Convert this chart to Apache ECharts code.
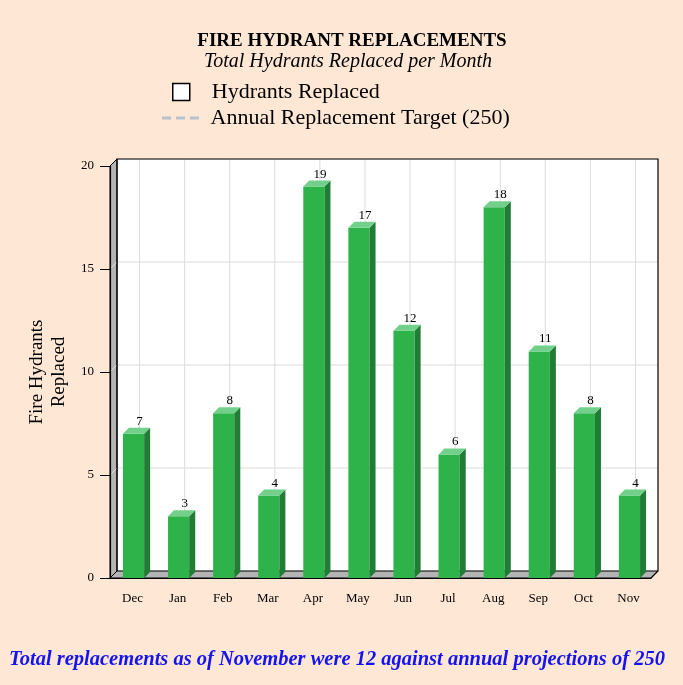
<!DOCTYPE html>
<html><head><meta charset="utf-8">
<script src="https://cdn.jsdelivr.net/npm/echarts@6/dist/echarts.min.js"></script>
<style>html,body{margin:0;padding:0;background:#fee7d4;}#c{width:683px;height:685px;}</style>
</head><body><div id="c"></div>
<script>
var months = ['Dec','Jan','Feb','Mar','Apr','May','Jun','Jul','Aug','Sep','Oct','Nov'];
var replaced = [7,3,8,4,19,17,12,6,18,11,8,4];
var yTicks = [0,5,10,15,20];
var titleText = 'FIRE HYDRANT REPLACEMENTS';
var subText = 'Total Hydrants Replaced per Month';
var seriesName = 'Hydrants Replaced';
var targetName = 'Annual Replacement Target (250)';
var footer = 'Total replacements as of November were 12 against annual projections of 250';

var FONT = '"Liberation Serif", "Times New Roman", serif';
var D = 7;   // wall depth (px)
var BD = 6;  // bar depth (px)

var chart = echarts.init(document.getElementById('c'));

function wallsRender(params, api) {
  var cs = params.coordSys;
  var x0 = cs.x, x1 = cs.x + cs.width, yb = cs.y + cs.height, yt = cs.y;
  var ch = [];
  ch.push({type:'rect', shape:{x:x0+D, y:yt-D, width:cs.width, height:cs.height}, style:{fill:'#ffffff', stroke:null}});
  yTicks.forEach(function(t){
    var y = api.coord([0,t])[1];
    ch.push({type:'line', shape:{x1:x0+D, y1:y-D, x2:x1+D, y2:y-D}, style:{stroke:'#dcdcdc', lineWidth:1}});
  });
  for (var i = 0; i < months.length; i++) {
    var x = api.coord([i,0])[0];
    ch.push({type:'line', shape:{x1:x+D, y1:yt-D, x2:x+D, y2:yb-D}, style:{stroke:'#dcdcdc', lineWidth:1}});
  }
  ch.push({type:'polygon', shape:{points:[[x0,yt],[x0+D,yt-D],[x0+D,yb-D],[x0,yb]]}, style:{fill:'#b4b4b4', stroke:'#000', lineWidth:1}});
  yTicks.forEach(function(t){
    var y = api.coord([0,t])[1];
    if (t>0 && t<20) ch.push({type:'line', shape:{x1:x0, y1:y, x2:x0+D, y2:y-D}, style:{stroke:'#e0e0e0', lineWidth:1}});
  });
  ch.push({type:'polygon', shape:{points:[[x0,yb],[x0+D,yb-D],[x1+D,yb-D],[x1,yb]]}, style:{fill:'#b4b4b4', stroke:'#000', lineWidth:1}});
  ch.push({type:'polyline', shape:{points:[[x0+D,yb-D],[x0+D,yt-D],[x1+D,yt-D],[x1+D,yb-D],[x1,yb]]}, style:{stroke:'#000', fill:null, lineWidth:1.2}});
  return {type:'group', children:ch};
}

function barRender(params, api) {
  var idx = api.value(0), val = api.value(1);
  var top = api.coord([idx, val]);
  var bot = api.coord([idx, 0]);
  var bw = api.size([1,0])[0] * 0.47;
  var xl = top[0] - bw/2 + 1, xr = xl + bw;
  var yt = top[1], yb = bot[1];
  return {type:'group', children:[
    {type:'rect', shape:{x:xl, y:yt, width:bw, height:yb-yt}, style:{fill:'#2db34a'}},
    {type:'polygon', shape:{points:[[xr,yt],[xr+BD,yt-BD],[xr+BD,yb-BD],[xr,yb]]}, style:{fill:'#217d36'}},
    {type:'polygon', shape:{points:[[xl,yt],[xl+BD,yt-BD],[xr+BD,yt-BD],[xr,yt]]}, style:{fill:'#72d08a'}},
    {type:'text', style:{text:String(val), x:(xl+xr)/2+BD, y:yt-BD, align:'center', verticalAlign:'bottom', font:'13px ' + FONT, fill:'#000'}}
  ]};
}

chart.setOption({
  backgroundColor:'#fee7d4',
  animation:false,
  title:[
    {text:titleText, left:352, top:32, padding:0, textAlign:'center', textStyle:{fontFamily:FONT, fontSize:19, fontWeight:'bold', color:'#000'}},
    {text:subText, left:348, top:52, padding:0, textAlign:'center', textStyle:{fontFamily:FONT, fontSize:20, fontStyle:'italic', fontWeight:'normal', color:'#000'}},
    {text:footer, left:337, top:650, padding:0, textAlign:'center', textStyle:{fontFamily:FONT, fontSize:20.5, fontStyle:'italic', fontWeight:'bold', color:'#1414f0'}}
  ],
  legend:[
    {data:[{name:seriesName, icon:'rect', itemStyle:{color:'#ffffff', borderColor:'#000', borderWidth:1.5}}],
     left:172, top:81, padding:0, itemWidth:17, itemHeight:17, selectedMode:false,
     textStyle:{fontFamily:FONT, fontSize:22, color:'#000', padding:[0,0,0,17]}},
    {data:[{name:targetName, icon:'path://M0,0h9v3h-9z M14,0h9v3h-9z M28,0h9v3h-9z', itemStyle:{color:'#b9c1cc'}}],
     left:162, top:107, padding:0, itemWidth:38, itemHeight:3, selectedMode:false,
     textStyle:{fontFamily:FONT, fontSize:22, color:'#000', padding:[0,0,0,6]}}
  ],
  grid:{left:110, top:166, width:541, height:412},
  xAxis:{type:'category', data:months, z:10,
    axisLine:{lineStyle:{color:'#000', width:1.2}},
    axisTick:{alignWithLabel:true, length:9, lineStyle:{color:'#000'}},
    axisLabel:{fontFamily:FONT, fontSize:13, color:'#000', margin:14},
    splitLine:{show:false}},
  yAxis:{type:'value', min:0, max:20, interval:5, z:10,
    name:'Fire Hydrants\nReplaced', nameLocation:'middle', nameRotate:90, nameGap:37,
    nameTextStyle:{fontFamily:FONT, fontSize:19, color:'#000', lineHeight:22},
    axisLine:{show:true, lineStyle:{color:'#000', width:1.2}},
    axisTick:{show:true, length:10, lineStyle:{color:'#000'}},
    axisLabel:{fontFamily:FONT, fontSize:13, color:'#000', margin:16},
    splitLine:{show:false}},
  series:[
    {type:'custom', name:'walls', renderItem:wallsRender, data:[[0,0]], z:1, silent:true},
    {type:'custom', name:seriesName, renderItem:barRender, z:3,
     data:replaced.map(function(v,i){return [i,v];}), itemStyle:{color:'#2db34a'}},
    {type:'line', name:targetName, data:[], symbol:'none', lineStyle:{color:'#b9c1cc', type:'dashed', width:2}, itemStyle:{color:'#b9c1cc'}}
  ]
});
</script></body></html>
